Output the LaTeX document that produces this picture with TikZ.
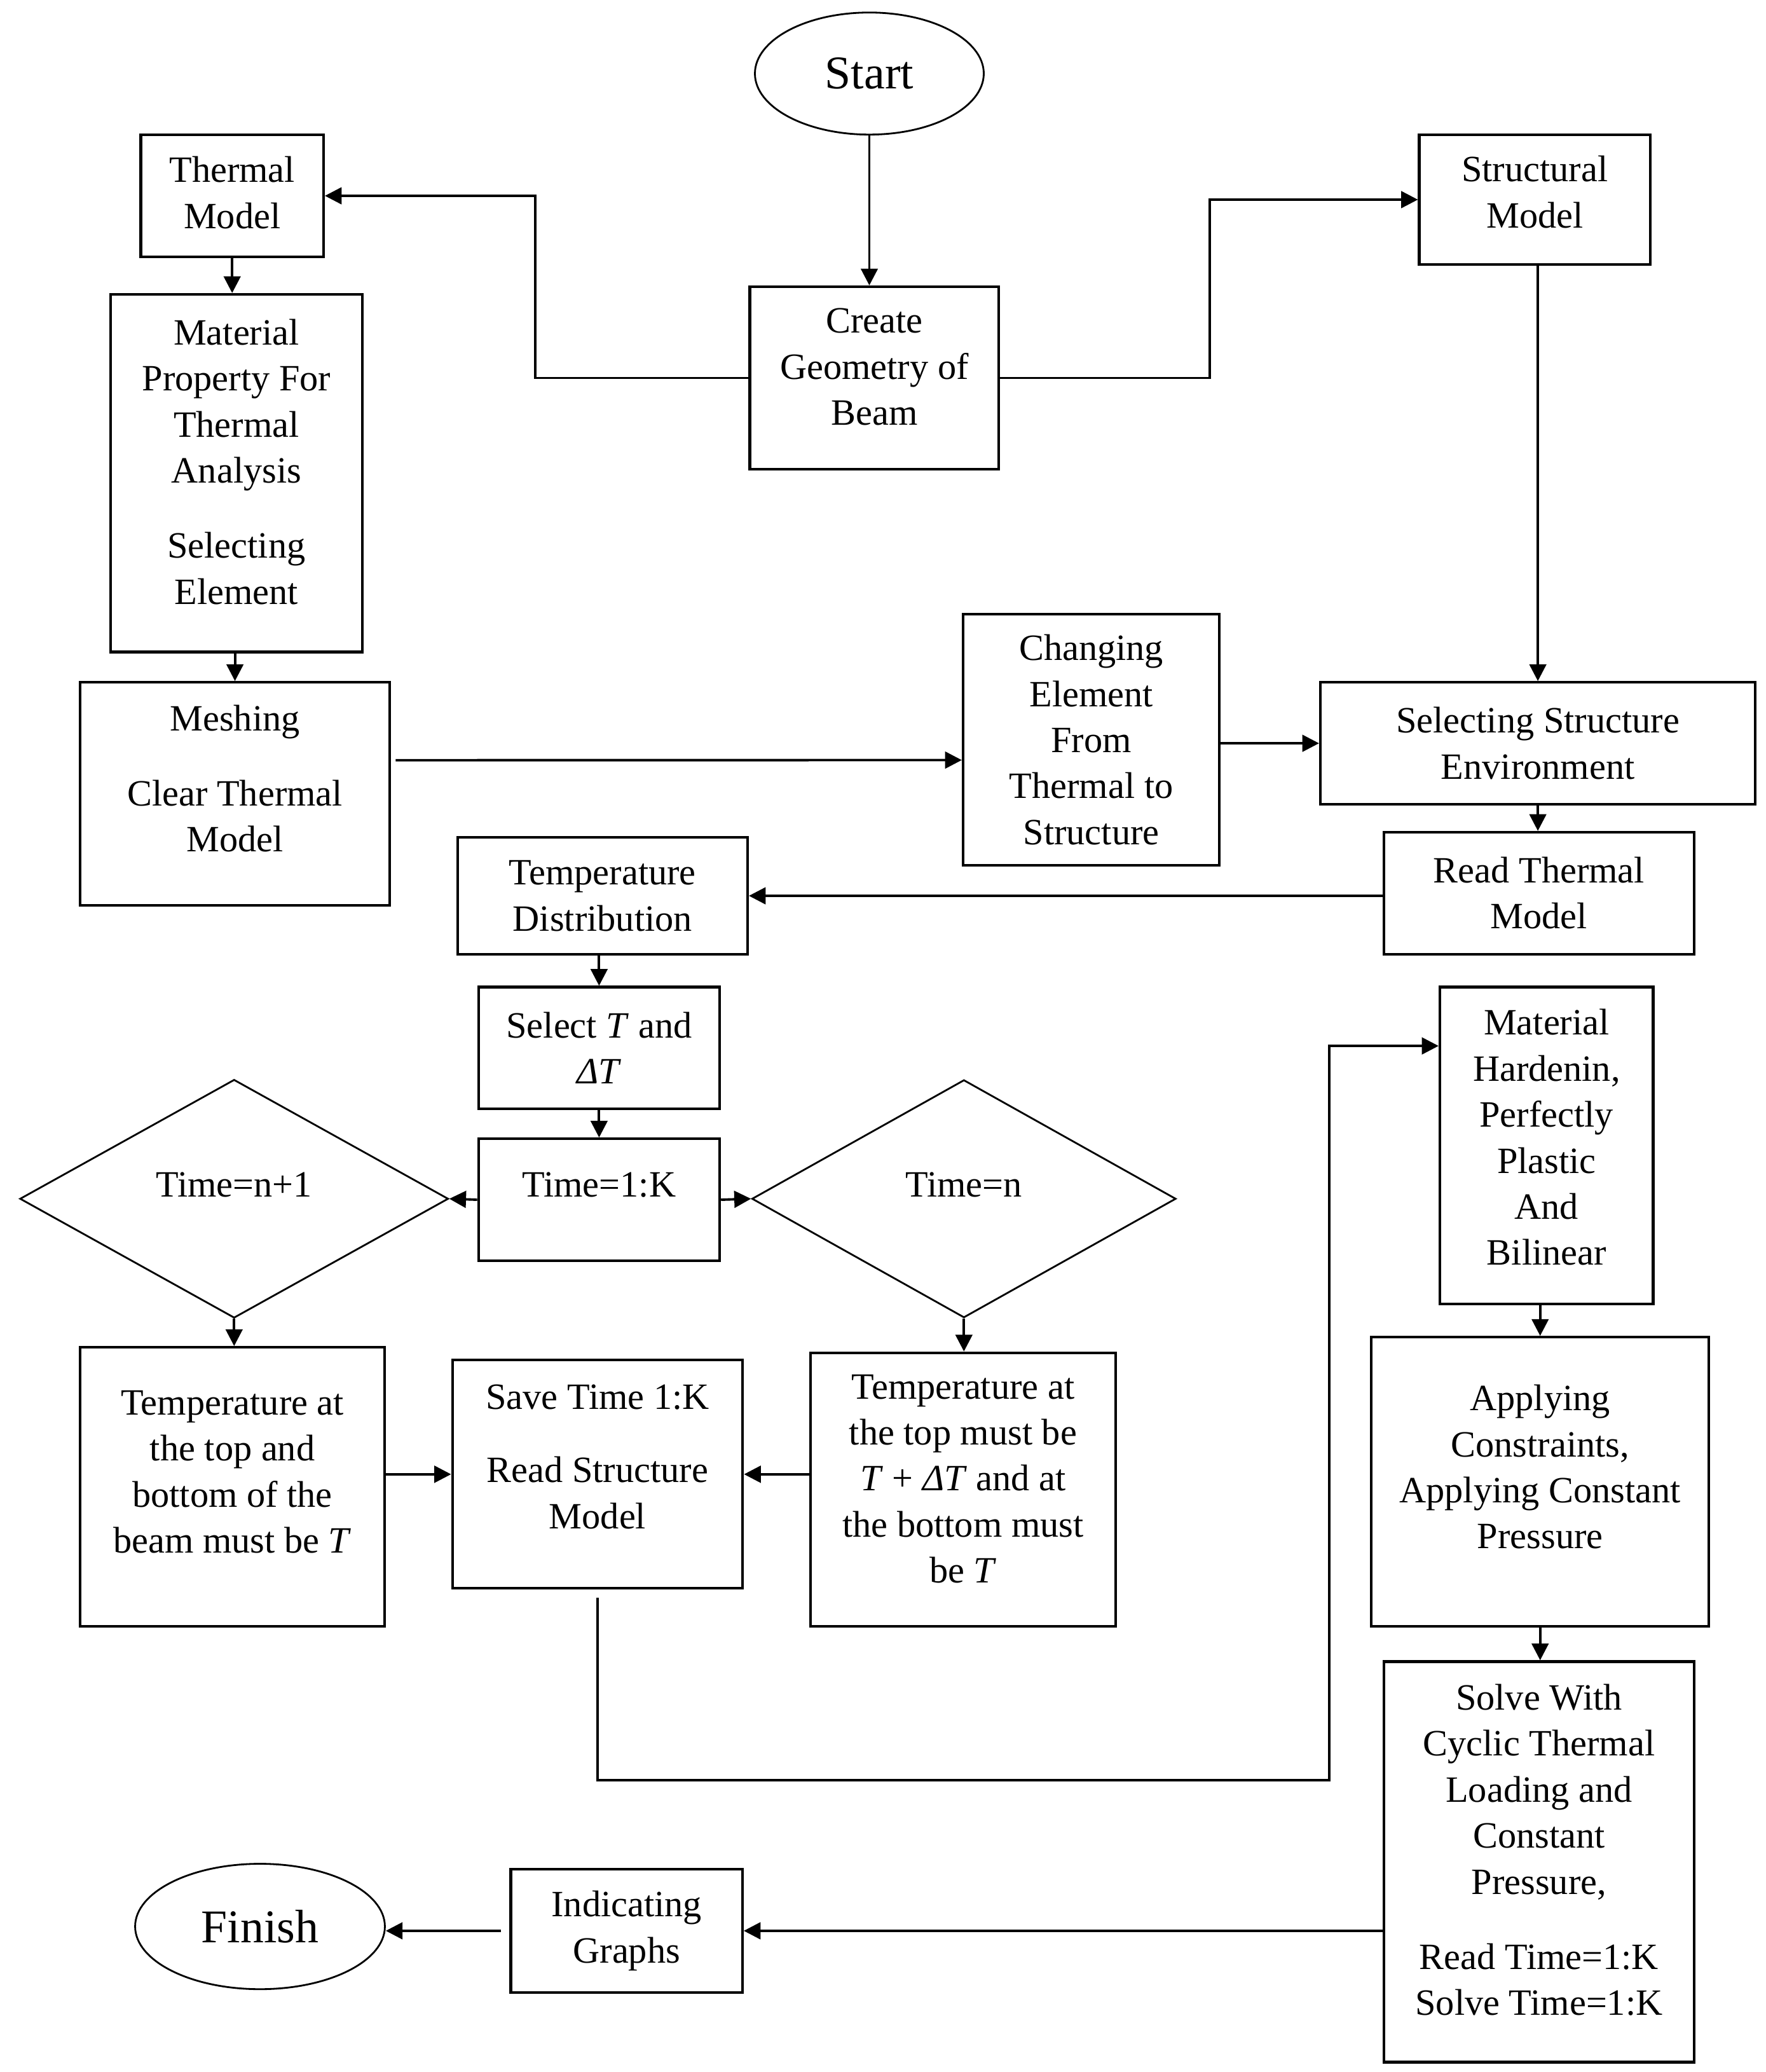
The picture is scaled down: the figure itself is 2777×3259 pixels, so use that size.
\documentclass[tikz,border=0pt]{standalone}
\usepackage{fontspec}
\setmainfont{Liberation Serif}
\usetikzlibrary{arrows.meta,shapes.geometric,calc}
\newcommand{\lowpad}[1]{\rule[-#1]{0pt}{#1}}
\tikzset{
	>={Triangle[length=7.5pt,width=7.5pt]},
	box/.style={draw,rectangle,align=center,line width=1.2pt,inner sep=2pt,font=\fontsize{16.6}{20.6}\selectfont},
	term/.style={draw,ellipse,line width=0.8pt,font=\fontsize{21}{25}\selectfont},
	choice/.style={draw,diamond,line width=0.8pt,inner sep=0pt,align=center,font=\fontsize{16.6}{20.6}\selectfont},
	flow/.style={line width=1.1pt,->}
}
\begin{document}
\begin{tikzpicture}[x=0.1mm,y=-0.1mm]
	\useasboundingbox (0,0) rectangle (2777,3259);
	% top part
	\node[term,minimum width=36mm,minimum height=19.2mm] (start) at (1367.5,115.7) {Start};
	\node[box,minimum width=28.75mm,minimum height=19.22mm] (thm) at (365.2,308) {Thermal\\Model\lowpad{3pt}};
	\node[box,minimum width=36.36mm,minimum height=20.41mm] (str) at (2414.3,314) {Structural\\Model\lowpad{7pt}};
	\node[box,minimum width=39.17mm,minimum height=28.7mm] (geo) at (1375.4,594.5) {Create\\Geometry of\\Beam\lowpad{10pt}};
	\node[box,minimum width=39.55mm,minimum height=56.26mm] (mat) at (371.9,744.3) {Material\\Property For\\Thermal\\Analysis\\[13pt]Selecting\\Element\lowpad{10.4pt}};
	\node[box,minimum width=48.75mm,minimum height=35.08mm] (msh) at (369.6,1248.7) {Meshing\\[13pt]Clear Thermal\\Model\lowpad{13.9pt}};
	\node[box,minimum width=40.31mm,minimum height=39.5mm] (chg) at (1716.6,1163.5) {Changing\\Element\\From\\Thermal to\\Structure};
	\node[box,minimum width=68.42mm,minimum height=19.16mm] (sel) at (2419.1,1169.1) {Selecting Structure\\Environment};
	\node[box,minimum width=48.74mm,minimum height=19.16mm] (rtm) at (2420.9,1404.8) {Read Thermal\\Model};
	\node[box,minimum width=45.63mm,minimum height=18.45mm] (tdi) at (947.8,1409) {Temperature\\Distribution};
	% time loop
	\node[box,minimum width=37.94mm,minimum height=19.15mm] (stt) at (942.4,1648.3) {Select \textit{T} and\\\textit{ΔT}};
	\node[box,minimum width=37.94mm,minimum height=19.15mm] (t1k) at (942.4,1887) {Time=1:K\lowpad{13.5pt}};
	\node[choice,minimum width=67.4mm,minimum height=37.5mm] (dnp) at (368.3,1885.5) {Time=n+1\lowpad{12.7pt}};
	\node[choice,minimum width=66.7mm,minimum height=37.4mm] (dn) at (1516.3,1885.5) {Time=n\lowpad{12.7pt}};
	\node[box,minimum width=47.95mm,minimum height=43.87mm] (ltp) at (365.6,2338.6) {Temperature at\\the top and\\bottom of the\\beam must be \textit{T}\lowpad{13.5pt}};
	\node[box,minimum width=45.66mm,minimum height=35.9mm] (sav) at (940,2318.8) {Save Time 1:K\\[12.3pt]Read Structure\\Model\lowpad{16pt}};
	\node[box,minimum width=47.98mm,minimum height=43.03mm] (rtp) at (1514.9,2342.9) {Temperature at\\the top must be\\\textit{T} + \textit{ΔT} and at\\the bottom must\\be \textit{T}\lowpad{9.7pt}};
	% structural part
	\node[box,minimum width=33.55mm,minimum height=49.88mm] (mhb) at (2432.8,1801.9) {Material\\Hardenin,\\Perfectly\\Plastic\\And\\Bilinear\lowpad{7.6pt}};
	\node[box,minimum width=53.13mm,minimum height=45.48mm] (acn) at (2422.7,2330.6) {Applying\\Constraints,\\Applying Constant\\Pressure\lowpad{13.4pt}};
	\node[box,minimum width=48.74mm,minimum height=63.01mm] (slv) at (2420.9,2928.5) {Solve With\\Cyclic Thermal\\Loading and\\Constant\\Pressure,\\[13pt]Read Time=1:K\\Solve Time=1:K\lowpad{11pt}};
	\node[box,minimum width=36.43mm,minimum height=19.45mm] (igr) at (985.7,3036.9) {Indicating\\Graphs};
	\node[term,minimum width=39.29mm,minimum height=19.72mm] (fin) at (409,3030.1) {Finish};

	\draw[flow] (start.south) -- (start.south |- geo.north);
	\draw[flow] (geo.west) -- ++(-335.7,0) |- (thm.east);
	\draw[flow] (geo.east) -- ++(329.4,0) |- (str.west);
	\draw[flow] (thm.south) -- (thm.south |- mat.north);
	\draw[flow] (msh.north |- mat.south) -- (msh.north);
	\draw[flow,shorten <=2pt] ($(msh.east)+(0,-53)$) -- ($(chg.west)+(0,32)$);
	\draw[flow] (sel.west -| chg.east) -- (sel.west);
	\draw[flow] (sel.north |- str.south) -- (sel.north);
	\draw[flow] (sel.south) -- (sel.south |- rtm.north);
	\draw[flow] (tdi.east -| rtm.west) -- (tdi.east);
	\draw[flow] (stt.north |- tdi.south) -- (stt.north);
	\draw[flow] (stt.south) -- (t1k.north);
	\draw[flow] (t1k.west) -- (dnp.east);
	\draw[flow] (t1k.east) -- (dn.west);
	\draw[flow] (dnp.south) -- (dnp.south |- ltp.north);
	\draw[flow] (dn.south) -- (dn.south |- rtp.north);
	\draw[flow] (sav.west -| ltp.east) -- (sav.west);
	\draw[flow] (sav.east -| rtp.west) -- (sav.east);
	\draw[flow,shorten <=3.7pt] (sav.south) -- ++(0,299.4) -- ++(1151,0) |- ($(mhb.north west)+(0,94.7)$);
	\draw[flow] (acn.north |- mhb.south) -- (acn.north);
	\draw[flow] (acn.south) -- (acn.south |- slv.north);
	\draw[flow] (igr.east -| slv.west) -- (igr.east);
	\draw[flow,shorten <=3.7pt] (igr.west) -- (igr.west -| fin.east);
\end{tikzpicture}
\end{document}
